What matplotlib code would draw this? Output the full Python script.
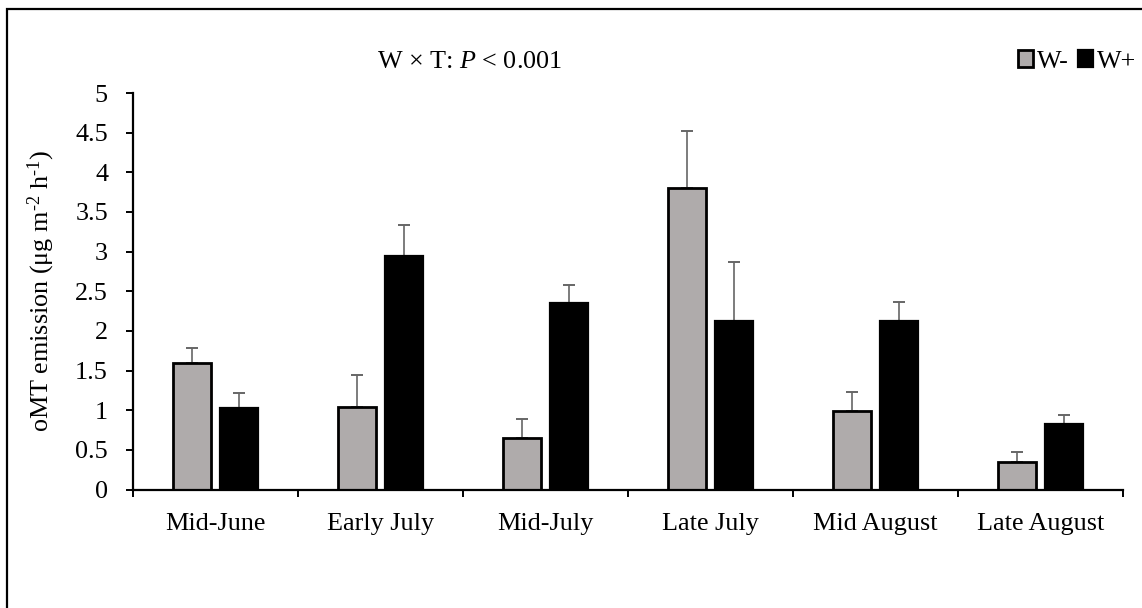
import numpy as np
import matplotlib
matplotlib.use('Agg')
import matplotlib.pyplot as plt
from matplotlib.patches import Rectangle

plt.rcParams['font.family'] = ['Liberation Serif', 'DejaVu Serif']
plt.rcParams['mathtext.fontset'] = 'custom'
plt.rcParams['mathtext.rm'] = 'Liberation Serif'
plt.rcParams['mathtext.it'] = 'Liberation Serif:italic'

# data
periods = ['Mid-June', 'Early July', 'Mid-July', 'Late July', 'Mid August', 'Late August']
w_minus = [1.60, 1.04, 0.65, 3.80, 0.99, 0.35]
w_minus_se = [0.18, 0.41, 0.235, 0.72, 0.24, 0.12]
w_plus = [1.03, 2.94, 2.35, 2.12, 2.13, 0.82]
w_plus_se = [0.19, 0.39, 0.23, 0.75, 0.24, 0.12]
yticks = [0, 0.5, 1, 1.5, 2, 2.5, 3, 3.5, 4, 4.5, 5]
ytick_labels = ['0', '0.5', '1', '1.5', '2', '2.5', '3', '3.5', '4', '4.5', '5']

FS = 18.8
W, H = 1142, 608

fig = plt.figure(figsize=(W / 100, H / 100), dpi=100)
ax = fig.add_axes([133 / W, 1 - 489.5 / H, 990 / W, 396.5 / H])

x = np.arange(len(periods))
bw = 0.23
off = 0.142
# error bars sit behind the bars so the lower cap is hidden
err_kw = dict(ecolor='#666666', elinewidth=1.2, capsize=4.5, capthick=1.4, zorder=1)

b1 = ax.bar(x - off, w_minus, bw, color='#AFABAB', edgecolor='black', linewidth=2.0,
            yerr=[np.zeros(len(w_minus)), w_minus_se], error_kw=err_kw, label='W-', zorder=2)
b2 = ax.bar(x + off, w_plus, bw, color='black', edgecolor='black', linewidth=1.6,
            yerr=[np.zeros(len(w_plus)), w_plus_se], error_kw=err_kw, label='W+', zorder=2)

ax.set_xlim(-0.5, len(periods) - 0.5)
ax.set_ylim(0, 5)
ax.set_yticks(yticks)
ax.set_yticklabels(ytick_labels, fontsize=FS)
ax.set_xticks(x)
ax.set_xticklabels(periods, fontsize=FS)
ax.tick_params(axis='x', length=0, pad=17)
ax.set_xticks(np.arange(len(periods) + 1) - 0.5, minor=True)
ax.tick_params(axis='x', which='minor', length=5, width=1.4, direction='out')
ax.tick_params(axis='y', length=5, width=1.4, direction='out', pad=13)

for s in ['top', 'right']:
    ax.spines[s].set_visible(False)
for s in ['left', 'bottom']:
    ax.spines[s].set_linewidth(1.6)

ax.set_ylabel('oMT emission (μg m$^{\u20102}$ h$^{\u20101}$)', fontsize=FS)
ax.yaxis.set_label_coords((57 - 133) / 990, 0.5)

fig.text(470 / W, 1 - 68 / H, r'W × T: $P$ < 0.001', fontsize=FS, ha='center', va='baseline')

leg = fig.legend(handles=[b1, b2], labels=['W-', 'W+'], loc='upper right',
                 bbox_to_anchor=(1147 / W, 1 - 40 / H), ncol=2, frameon=False,
                 fontsize=FS, handlelength=0.58, handleheight=0.58,
                 handletextpad=0.15, columnspacing=0.35, borderaxespad=0)

# outer frame (runs off the right and bottom edges)
fig.patches.append(Rectangle((7 / W, -0.1), 1.2, 1 - 9 / H + 0.1, transform=fig.transFigure,
                             fill=False, edgecolor='black', linewidth=1.6))

plt.savefig('out.png', dpi=100)
